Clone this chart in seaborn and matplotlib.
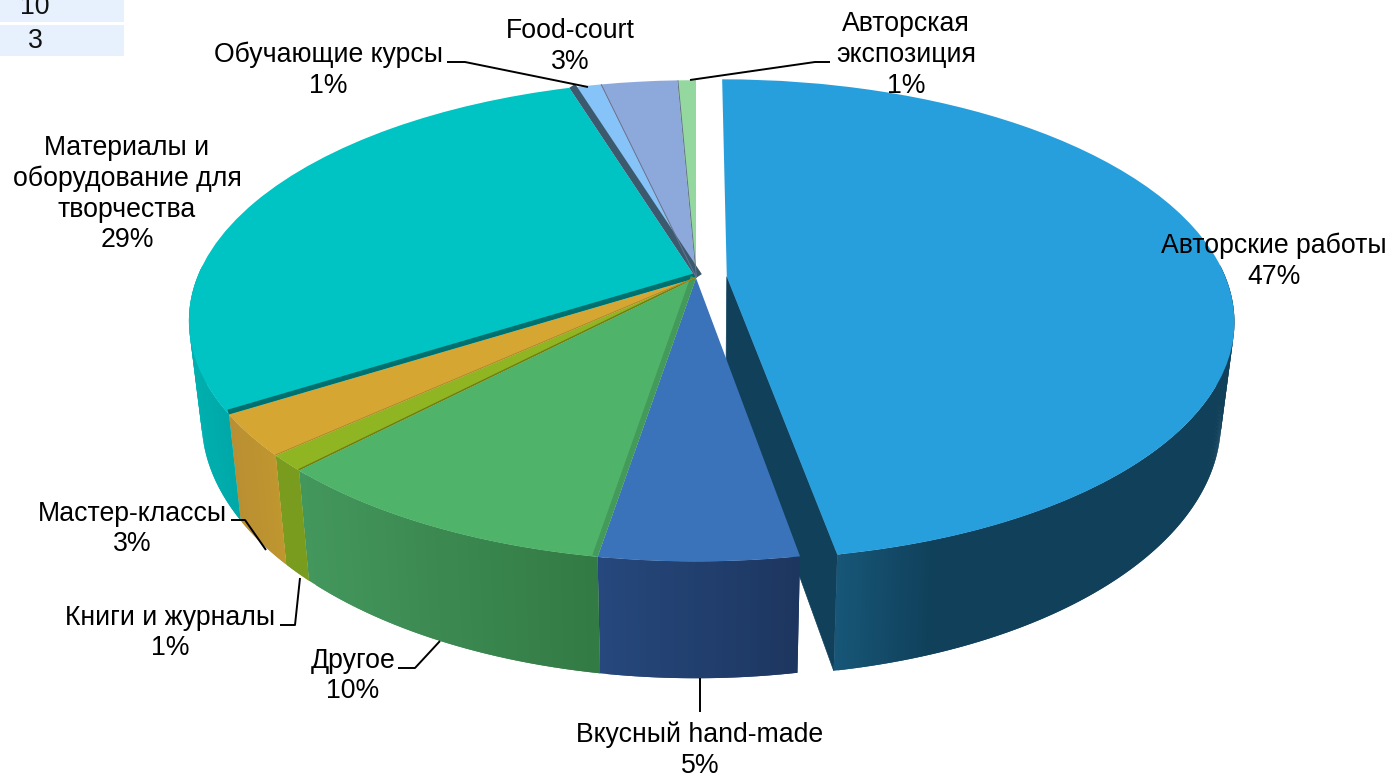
import numpy as np
import matplotlib
matplotlib.use("Agg")
import matplotlib.pyplot as plt
from matplotlib.transforms import Transform
from matplotlib.patches import Polygon, Rectangle
from matplotlib.colors import to_rgb
import seaborn as sns

# ---- data -------------------------------------------------------------
categories = ["Авторские работы", "Вкусный hand-made", "Другое", "Книги и журналы",
              "Мастер-классы", "Материалы и\nоборудование для\nтворчества",
              "Обучающие курсы", "Food-court", "Авторская\nэкспозиция"]
values = [47.25, 5.35, 9.6, 1.1, 2.8, 29.1, 1.2, 2.9, 0.7]
percent_labels = ["47%", "5%", "10%", "1%", "3%", "29%", "1%", "3%", "1%"]
explode = [0.062, 0, 0, 0, 0, 0, 0, 0, 0]
top_colors = ["#289fdd", "#3a73b9", "#4fb36a", "#8fb522", "#d6a633",
              "#00c3c3", "#85c3f8", "#8da8db", "#94d8a0"]
wall_left = ["#175678", "#26487c", "#43975c", "#7a9c1e", "#b98f33",
             "#00b0b0", "#6fa6d4", "#7890ba", "#7eb888"]
wall_right = ["#10405a", "#1d3660", "#337a45", "#7a9c1e", "#c0962f",
              "#00a8a8", "#6fa6d4", "#7890ba", "#7eb888"]
wall_gain = [4.0, 1, 1, 1, 1, 1, 1, 1, 1]
label_xy = [(1274, 261), (700, 750.5), (353, 676), (170, 633), (132, 529),
            (127, 194), (328, 70), (570, 46.5), (906, 55)]
table_values = ["10", "3"]

sns.set_theme(style="white")
plt.rcParams["font.family"] = ["Liberation Sans", "DejaVu Sans"]

# ---- perspective from the pie's unit disk to pixel coordinates ---------
CX, CY, A, B, P, DEPTH, SHRINK = 696.0, 278.0, 499.0, 233.0, 0.178, 96.0, 0.975


class Perspective(Transform):
    input_dims = 2
    output_dims = 2
    is_affine = False

    def transform_non_affine(self, xy):
        xy = np.asarray(xy, dtype=float)
        w = 1 + P * xy[:, 1]
        return np.column_stack([CX + A * xy[:, 0] / w, CY - B * xy[:, 1] / w])


persp = Perspective()


def bottom(pts, xy):
    w = 1 + P * xy[:, 1]
    return np.column_stack([CX + (pts[:, 0] - CX) * SHRINK, pts[:, 1] + DEPTH / w])


fig = plt.figure(figsize=(13.92, 7.77), dpi=100)
ax = fig.add_axes([0, 0, 1, 1])
wedges, _ = ax.pie(values, colors=sns.color_palette(top_colors), explode=explode,
                   startangle=90, counterclock=False, normalize=True)
ax.set_aspect("auto")
ax.set_xlim(0, 1392)
ax.set_ylim(777, 0)
ax.axis("off")


def edge(wedge, th):
    c = np.array(wedge.center)
    t = np.radians(th)
    return c + wedge.r * np.column_stack([np.cos(t), np.sin(t)])


for i, w in enumerate(wedges):
    w.set_transform(persp + ax.transData)
    w.set_zorder(3)
    w.set_edgecolor("none")
    w.set_linewidth(0)
    w.set_clip_on(False)

    # curved outer wall, shaded from left to right; each piece overlaps the next
    n = 400 if i == 0 else (120 if i == 5 else 30)
    ths = np.linspace(w.theta1, w.theta2, n)
    xy = edge(w, ths)
    visible = xy[:, 1] < 0.05
    if not visible.any():
        continue
    top = persp.transform(xy)
    bot = bottom(top, xy)
    lo, hi = top[visible, 0].min(), top[visible, 0].max()
    c0, c1 = np.array(to_rgb(wall_left[i])), np.array(to_rgb(wall_right[i]))
    z = 1 if i == 0 else 2
    for k in range(n - 1):
        if not visible[k] and not visible[k + 1]:
            continue
        f = min(1.0, ((top[k, 0] + top[k + 1, 0]) / 2 - lo) / max(hi - lo, 1) * wall_gain[i])
        col = c0 + (c1 - c0) * f
        m = min(k + 2, n - 1)
        ax.add_patch(Polygon([top[k], top[m], bot[m], bot[k]], closed=True,
                             facecolor=col, edgecolor="none", zorder=z + k * 1e-4))

# radial wall of the pulled-out slice
main = wedges[0]
end_theta = min(main.theta1, main.theta2)
rim = edge(main, [end_theta])
cen = np.array([main.center])
pp = np.vstack([persp.transform(cen), persp.transform(rim)])
qq = bottom(pp, np.vstack([cen, rim]))
ax.add_patch(Polygon([pp[0], pp[1], qq[1], qq[0]], closed=True, facecolor=wall_right[0],
                     edgecolor=wall_right[0], linewidth=0.5, zorder=0.9))

# thin walls showing between neighbouring slices
cum = np.cumsum(values) / np.sum(values)


def strip(frac, width, color):
    th = 90 - 360 * frac
    p0 = persp.transform(np.array([[0.0, 0.0]]))[0]
    p1 = persp.transform(edge(wedges[1], [th]))[0]
    d = (p1 - p0) / np.hypot(*(p1 - p0))
    nrm = np.array([-d[1], d[0]]) * width
    ax.add_patch(Polygon([p0, p1, p1 + nrm, p0 + nrm], closed=True, facecolor=color,
                         edgecolor="none", zorder=4))


strip(cum[4], 5.0, "#00706f")    # teal / gold
strip(cum[5], 7.0, "#3b5a6e")    # teal / light blue
strip(cum[1], 5.5, "#439a5a")    # green / blue
strip(cum[2], 1.5, "#6e7d14")    # green / olive
strip(cum[3], 1.0, "#a98a2a")    # olive / gold
strip(cum[6], 1.0, "#66738f")    # light blue / periwinkle
strip(cum[7], 1.0, "#66738f")    # periwinkle / mint

# leader lines
leaders = [
    [(447, 62), (465, 62), (588, 87)],
    [(830, 62), (815, 62), (690, 80)],
    [(700, 678), (700, 712)],
    [(398, 668), (415, 668), (440, 641)],
    [(280, 625), (295, 625), (300, 578)],
    [(231, 520), (245, 520), (266, 550)],
]
for pts in leaders:
    xs, ys = zip(*pts)
    ax.plot(xs, ys, color="black", lw=1.4, zorder=5, solid_capstyle="butt", clip_on=False)

# labels
for name, pct, (x, y) in zip(categories, percent_labels, label_xy):
    ax.text(x, y, f"{name}\n{pct}", ha="center", va="center", ma="center",
            fontsize=19.2, linespacing=1.23, color="black", zorder=6)

# fragment of the table at the top-left corner
for (y0, y1), s, ty in zip([(-2, 22), (25, 56)], table_values, [7, 41]):
    ax.add_patch(Rectangle((0, y0), 124, y1 - y0, facecolor="#e6f1fd", edgecolor="none", zorder=1))
    ax.text(35, ty, s, ha="center", va="center", fontsize=19.2, color="#111111", zorder=6)

fig.savefig("out.png", dpi=100, facecolor="white")
